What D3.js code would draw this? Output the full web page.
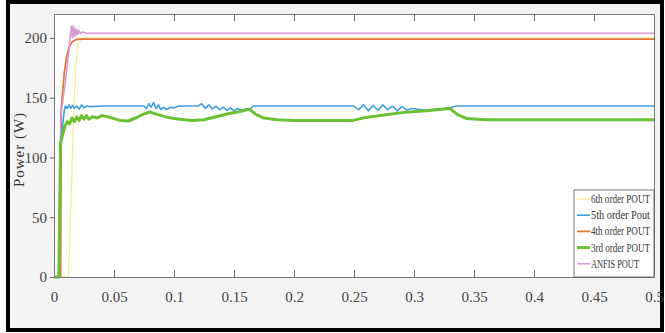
<!DOCTYPE html>
<html>
<head>
<meta charset="utf-8">
<script src="https://cdn.jsdelivr.net/npm/d3@7"></script>
<style>
  html, body { margin: 0; padding: 0; background: #fff; }
  svg { display: block; }
</style>
</head>
<body>
<div id="chart"></div>
<script>
// series as [time (s), power (W)] pairs
const anfisPout = [[0, 0], [0.004, 0], [0.0056, 135], [0.008, 152], [0.0105, 172], [0.0125, 190], [0.0138, 204],
  [0.0145, 210], [0.0152, 200], [0.016, 210], [0.0168, 201], [0.0176, 208], [0.0184, 202], [0.0192, 207],
  [0.02, 203], [0.021, 206], [0.022, 203.5], [0.024, 205], [0.027, 204], [0.5, 204]];
const order6Pout = [[0, 0], [0.012, 0], [0.0135, 40], [0.015, 90], [0.0165, 140], [0.018, 175], [0.02, 194], [0.023, 200], [0.5, 200]];
const order4Pout = [[0, 0], [0.0055, 0], [0.006, 140], [0.007, 152], [0.0085, 170], [0.0105, 184], [0.0125, 192],
  [0.015, 196.5], [0.018, 198.5], [0.022, 199], [0.5, 199]];
const order5Pout = [[0, 0], [0.004, 0], [0.0052, 110], [0.007, 125], [0.0085, 139], [0.0095, 143], [0.011, 141],
  [0.0125, 144], [0.014, 141], [0.0155, 143.5], [0.017, 141], [0.019, 143], [0.021, 140.5], [0.023, 144],
  [0.025, 141.5], [0.027, 143], [0.03, 142.5], [0.04, 143], [0.075, 143], [0.077, 141], [0.079, 145],
  [0.081, 142], [0.083, 146], [0.085, 141], [0.087, 144], [0.089, 140], [0.091, 142], [0.094, 140],
  [0.097, 142], [0.1, 141.5], [0.104, 143], [0.12, 143], [0.123, 145], [0.126, 141], [0.129, 144],
  [0.132, 140.5], [0.135, 143], [0.138, 140], [0.141, 142], [0.144, 139.5], [0.147, 141.5], [0.15, 139],
  [0.153, 141], [0.156, 139.5], [0.159, 140.5], [0.163, 140], [0.166, 143], [0.2, 143], [0.25, 143],
  [0.254, 140], [0.258, 144], [0.262, 139], [0.266, 143.5], [0.27, 139.5], [0.274, 144], [0.278, 140],
  [0.282, 143], [0.286, 139], [0.29, 142.5], [0.294, 139.5], [0.298, 141], [0.31, 139.5], [0.32, 140.5],
  [0.33, 141.5], [0.335, 143], [0.5, 143]];
const order3Pout = [[0, 0], [0.004, 0], [0.0055, 112], [0.0075, 120], [0.009, 126], [0.011, 130], [0.013, 128],
  [0.015, 133], [0.017, 130], [0.019, 134], [0.021, 131], [0.023, 135], [0.025, 132], [0.027, 135],
  [0.029, 132], [0.032, 134], [0.036, 133], [0.04, 135], [0.045, 134], [0.05, 132.5], [0.055, 131],
  [0.062, 130.5], [0.068, 133], [0.074, 136], [0.08, 138], [0.086, 136], [0.095, 133.5], [0.105, 132],
  [0.115, 131], [0.125, 131.5], [0.135, 134], [0.145, 136.5], [0.155, 138.5], [0.163, 140.5],
  [0.168, 136], [0.175, 133], [0.186, 131.5], [0.2, 131], [0.249, 131], [0.26, 133.5], [0.275, 135.5],
  [0.29, 137.5], [0.31, 139], [0.33, 141], [0.336, 136], [0.344, 132.5], [0.36, 131.5], [0.5, 131.5]];

const xTicks = [0, 0.05, 0.1, 0.15, 0.2, 0.25, 0.3, 0.35, 0.4, 0.45, 0.5];
const yTicks = [0, 50, 100, 150, 200];
const legendNames = ['6th order POUT', '5th order Pout', '4th order POUT', '3rd order POUT', 'ANFIS POUT'];

const series = [
  {name: legendNames[0], data: order6Pout, color: '#f7ec95', width: 1.3},
  {name: legendNames[1], data: order5Pout, color: '#3f9fdf', width: 1.6},
  {name: legendNames[2], data: order4Pout, color: '#e5743a', width: 1.8},
  {name: legendNames[3], data: order3Pout, color: '#6cc034', width: 3},
  {name: legendNames[4], data: anfisPout, color: '#d99ad6', width: 1.5}
];

const width = 665, height = 333;
const margin = {top: 14, right: 11, bottom: 56, left: 54};
const plotW = width - margin.left - margin.right;
const plotH = height - margin.top - margin.bottom;

const svg = d3.select('#chart').append('svg')
  .attr('width', width)
  .attr('height', height);

// figure frame
svg.append('rect')
  .attr('x', 8).attr('y', 2)
  .attr('width', 654).attr('height', 328)
  .attr('fill', '#f3f3f3')
  .attr('stroke', '#000')
  .attr('stroke-width', 4);

const x = d3.scaleLinear().domain([0, 0.5]).range([0, plotW]);
const y = d3.scaleLinear().domain([0, 220]).range([plotH, 0]);

const g = svg.append('g')
  .attr('transform', `translate(${margin.left},${margin.top})`);

g.append('rect')
  .attr('width', plotW).attr('height', plotH)
  .attr('fill', '#fff');

const line = d3.line()
  .x(d => x(d[0]))
  .y(d => y(d[1]));

// draw order so 3rd/5th sit on top like the picture
const drawOrder = [0, 2, 4, 1, 3];
drawOrder.forEach(i => {
  const s = series[i];
  g.append('path')
    .datum(s.data)
    .attr('fill', 'none')
    .attr('stroke', s.color)
    .attr('stroke-width', s.width)
    .attr('stroke-linejoin', 'round')
    .attr('d', line);
});

const fmt = d => (d === 0 ? '0' : String(d));

const xAxis = g.append('g')
  .attr('transform', `translate(0,${plotH})`)
  .call(d3.axisBottom(x).tickValues(xTicks).tickFormat(fmt).tickSizeInner(-7).tickSizeOuter(0).tickPadding(14));
const xTop = g.append('g')
  .call(d3.axisTop(x).tickValues(xTicks).tickSizeInner(-7).tickSizeOuter(0).tickFormat(''));
const yAxis = g.append('g')
  .call(d3.axisLeft(y).tickValues(yTicks).tickSizeInner(4).tickSizeOuter(0).tickPadding(3));
const yRight = g.append('g')
  .attr('transform', `translate(${plotW},0)`)
  .call(d3.axisRight(y).tickValues(yTicks).tickSizeInner(0).tickSizeOuter(0).tickFormat(''));

[xAxis, xTop, yAxis, yRight].forEach(a => {
  a.select('.domain').attr('stroke', '#777');
  a.selectAll('.tick line').attr('stroke', '#666');
  a.selectAll('.tick text')
    .attr('font-family', '"Liberation Serif", serif')
    .attr('font-size', 15)
    .attr('fill', '#444');
});
// hide the end ticks on top/bottom that sit on the box corners
xAxis.selectAll('.tick line').filter(d => d === 0 || d === 0.5).remove();
xTop.selectAll('.tick line').filter(d => d === 0 || d === 0.5).remove();

svg.append('text')
  .attr('transform', `translate(24,${margin.top + plotH / 2 + 4}) rotate(-90)`)
  .attr('text-anchor', 'middle')
  .attr('font-family', '"Liberation Serif", serif')
  .attr('font-size', 15)
  .attr('letter-spacing', 1)
  .attr('fill', '#333')
  .text('Power (W)');

// legend
const lg = g.append('g')
  .attr('transform', `translate(${plotW - 80},${plotH - 87})`);
lg.append('rect')
  .attr('width', 80).attr('height', 87)
  .attr('fill', '#fff')
  .attr('stroke', '#555')
  .attr('stroke-width', 0.8);
series.forEach((s, i) => {
  const ly = 9 + i * 16.2;
  lg.append('line')
    .attr('x1', 3).attr('x2', 16)
    .attr('y1', ly).attr('y2', ly)
    .attr('stroke', s.color)
    .attr('stroke-width', s.width);
  lg.append('text')
    .attr('x', 17).attr('y', ly + 4)
    .attr('font-family', '"Liberation Serif", serif')
    .attr('font-size', 11.5)
    .attr('textLength', s.name.length > 11 ? 59 : 48)
    .attr('lengthAdjust', 'spacingAndGlyphs')
    .attr('fill', '#333')
    .text(s.name);
});
</script>
</body>
</html>
